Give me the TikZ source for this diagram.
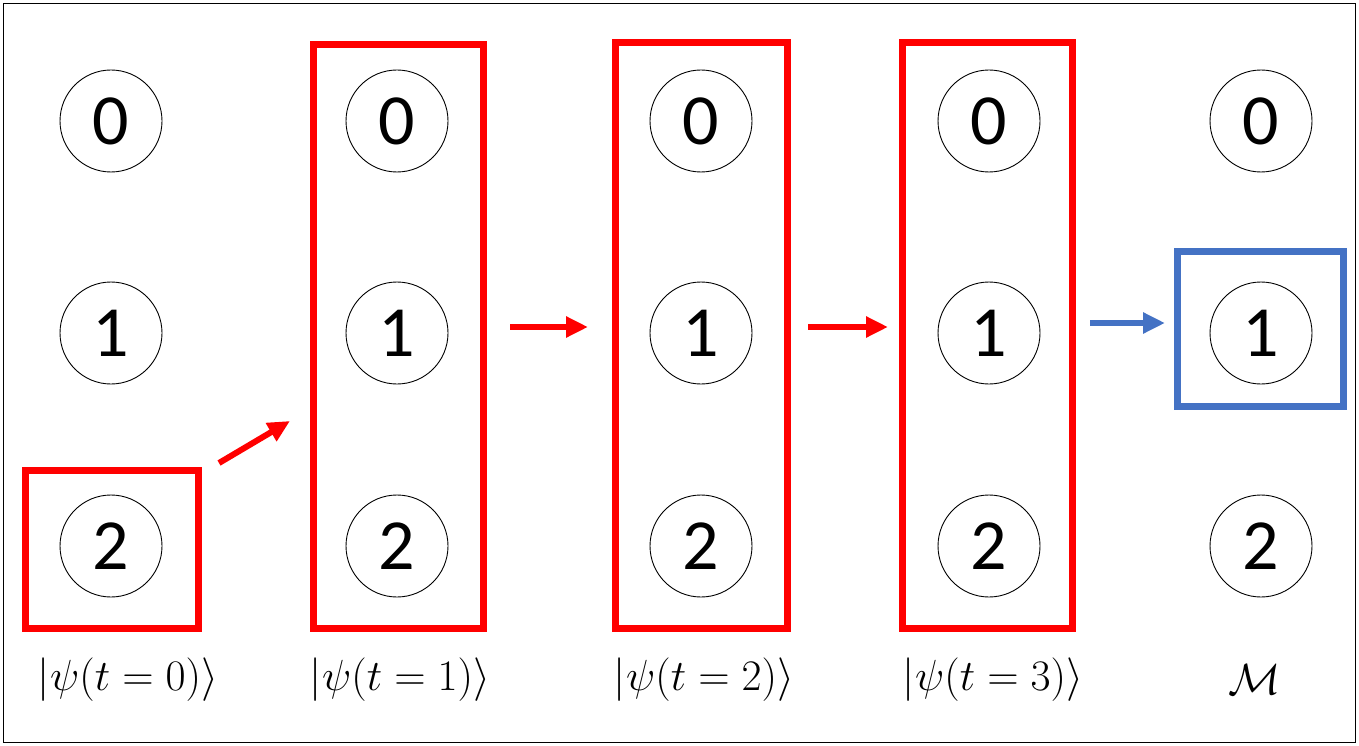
\documentclass[tikz,border=0pt]{standalone}
\usepackage{fontspec}
\newfontfamily\digitfont{Carlito}
\usepackage{amsmath}
\usetikzlibrary{arrows.meta}
\definecolor{mblue}{RGB}{68,114,196}
\begin{document}
\begin{tikzpicture}[x=1pt,y=-1pt,
  lvl/.style={circle,draw,line width=0.9pt,minimum size=102pt,inner sep=0pt,font=\digitfont\fontsize{72}{80}\selectfont},
  rbox/.style={draw=red,line width=7pt},
  bbox/.style={draw=mblue,line width=7pt},
  arr/.style={line width=6pt,-{Triangle[length=22pt,width=20pt]}},
  lab/.style={font=\fontsize{20}{24}\selectfont,scale=2.1}]
\draw[thin] (3,3) rectangle (1355,742);
\useasboundingbox (0,0) rectangle (1359,746);
\foreach \n/\x in {a/111,b/397,c/701,d/989,e/1261}{
  \node[lvl] (\n0) at (\x,121) {0};
  \node[lvl] (\n1) at (\x,333) {1};
  \node[lvl] (\n2) at (\x,546) {2};
}
\draw[rbox] (25,470) rectangle (198,628);
\draw[rbox] (313,45) rectangle (483,628);
\draw[rbox] (615,43) rectangle (787,628);
\draw[rbox] (902,43) rectangle (1072,628);
\draw[bbox] (1177,251) rectangle (1343,406);
\coordinate (p1) at (219,463); \coordinate (p2) at (290,421);
\coordinate (q1) at (510,327); \coordinate (q2) at (588,327);
\coordinate (r1) at (808,327); \coordinate (r2) at (888,327);
\coordinate (s1) at (1090,323); \coordinate (s2) at (1165,323);
\draw[arr,red] (p1) -- (p2);
\draw[arr,red] (q1) -- (q2);
\draw[arr,red] (r1) -- (r2);
\draw[arr,mblue] (s1) -- (s2);
\node[lab] (l0) at (128,680) {$|\psi(t=0)\rangle$};
\node[lab] (l1) at (400,680) {$|\psi(t=1)\rangle$};
\node[lab] (l2) at (704,680) {$|\psi(t=2)\rangle$};
\node[lab] (l3) at (993,680) {$|\psi(t=3)\rangle$};
\node[lab] (l4) at (1255,680) {$\mathcal{M}$};
\end{tikzpicture}
\end{document}
